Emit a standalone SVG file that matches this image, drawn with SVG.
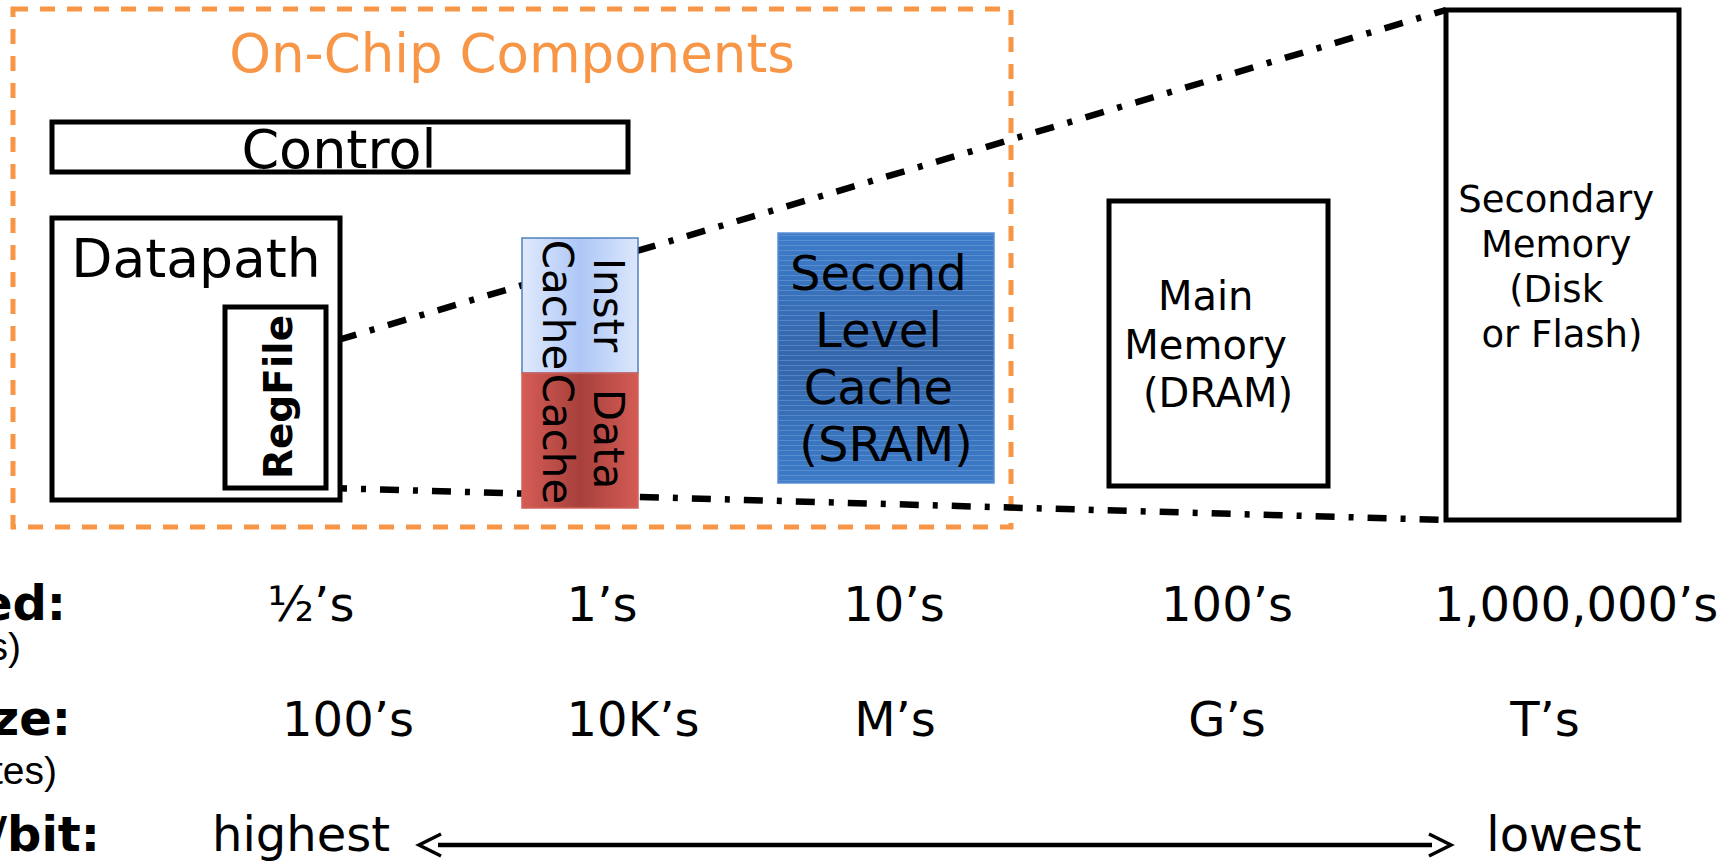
<svg xmlns="http://www.w3.org/2000/svg" width="1731" height="861" viewBox="0 0 1731 861">
<style>
  .t { font-family: "DejaVu Sans", "Liberation Sans", sans-serif; fill: #000; }
  .box { fill: #fff; stroke: #000; stroke-width: 5; }
  .dd { fill: none; stroke: #000; stroke-width: 6.5; stroke-dasharray: 19 14 5 14; }
  .b { font-weight: bold; }
  .val { font-size: 48px; text-anchor: middle; }
  .sub { font-family: "Liberation Sans", Arial, sans-serif; font-size: 39px; text-anchor: end; fill: #000; }
</style>
<defs>
  <linearGradient id="gInstr" x1="0" y1="0" x2="1" y2="0">
    <stop offset="0" stop-color="#e0eafc"/>
    <stop offset="0.5" stop-color="#aec7f7"/>
    <stop offset="1" stop-color="#dce7fb"/>
  </linearGradient>
  <linearGradient id="gData" x1="0" y1="0" x2="1" y2="0">
    <stop offset="0" stop-color="#d65c56"/>
    <stop offset="0.5" stop-color="#a7403b"/>
    <stop offset="1" stop-color="#d45b55"/>
  </linearGradient>
  <linearGradient id="gSlc" x1="0" y1="0" x2="0" y2="1">
    <stop offset="0" stop-color="#3d7cca"/>
    <stop offset="0.5" stop-color="#3466aa"/>
    <stop offset="1" stop-color="#3c7bc8"/>
  </linearGradient>
  <pattern id="pStripe" width="8" height="5" patternUnits="userSpaceOnUse">
    <rect x="0" y="0" width="8" height="1" fill="#8fb4e6" opacity="0.35"/>
  </pattern>
</defs>

<g id="onchip">
  <rect x="13" y="9" width="998" height="518" fill="none" stroke="#F79646" stroke-width="5" stroke-dasharray="15 12"/>
  <text class="t" x="512" y="72" font-size="53" text-anchor="middle" style="fill:#F79646">On-Chip Components</text>
</g>

<g id="connectors">
  <path class="dd" d="M338,340 L1446,10"/>
  <path class="dd" d="M328,488 L1446,520"/>
  <g id="cost-arrow" fill="none" stroke="#000">
    <line x1="438" y1="845" x2="1432" y2="845" stroke-width="4.5"/>
    <path d="M441,834 L419,845 L441,856" stroke-width="3.5"/>
    <path d="M1429,834 L1451,845 L1429,856" stroke-width="3.5"/>
  </g>
</g>

<g id="control">
  <rect class="box" x="52" y="122" width="576" height="50"/>
  <text class="t" x="339" y="168" font-size="54" text-anchor="middle">Control</text>
</g>

<g id="datapath">
  <rect class="box" x="52" y="218" width="288" height="282"/>
  <text class="t" x="196" y="277" font-size="53.5" text-anchor="middle">Datapath</text>
</g>

<g id="regfile">
  <rect class="box" x="225" y="307" width="101" height="181"/>
  <text class="t b" transform="translate(292,397) rotate(-90)" font-size="39" text-anchor="middle">RegFile</text>
</g>

<g id="instr-cache">
  <rect x="522" y="238" width="116" height="135" fill="url(#gInstr)" stroke="#4f81bd" stroke-width="1.5"/>
  <text class="t" transform="translate(594,305) rotate(90)" font-size="42" text-anchor="middle"><tspan x="0" y="0">Instr</tspan><tspan x="0" y="51">Cache</tspan></text>
</g>

<g id="data-cache">
  <rect x="522" y="373" width="116" height="135" fill="url(#gData)" stroke="#d0635e" stroke-width="1.5"/>
  <text class="t" transform="translate(594,439) rotate(90)" font-size="42" text-anchor="middle"><tspan x="0" y="0">Data</tspan><tspan x="0" y="51">Cache</tspan></text>
</g>

<g id="second-level-cache">
  <rect x="778" y="233" width="216" height="250" fill="url(#gSlc)" stroke="#5b8fd3" stroke-width="1.5"/>
  <rect x="779" y="234" width="214" height="248" fill="url(#pStripe)"/>
  <text class="t" font-size="48" text-anchor="middle">
    <tspan x="886" y="290">Second</tspan>
    <tspan x="886" y="347">Level</tspan>
    <tspan x="886" y="404">Cache</tspan>
    <tspan x="886" y="461">(SRAM)</tspan>
  </text>
</g>

<g id="main-memory">
  <rect class="box" x="1109" y="201" width="219" height="285"/>
  <text class="t" font-size="40" text-anchor="middle">
    <tspan x="1212" y="310">Main</tspan>
    <tspan x="1212" y="359">Memory</tspan>
    <tspan x="1218" y="407">(DRAM)</tspan>
  </text>
</g>

<g id="secondary-memory">
  <rect class="box" x="1446" y="10" width="233" height="510"/>
  <text class="t" font-size="37" text-anchor="middle">
    <tspan x="1562" y="212">Secondary</tspan>
    <tspan x="1562" y="257">Memory</tspan>
    <tspan x="1562" y="302">(Disk</tspan>
    <tspan x="1562" y="347">or Flash)</tspan>
  </text>
</g>

<g id="row-labels">
  <text class="t b" x="66" y="620" font-size="48" text-anchor="end">ed:</text>
  <text class="sub" x="21" y="660">s)</text>
  <text class="t b" x="71" y="735" font-size="48" text-anchor="end">ze:</text>
  <text class="sub" x="57" y="784">tes)</text>
  <text class="t b" x="100" y="851" font-size="48" text-anchor="end">/bit:</text>
</g>

<g id="speed-row">
  <text class="t val" x="311" y="621">½’s</text>
  <text class="t val" x="602" y="621">1’s</text>
  <text class="t val" x="894" y="621">10’s</text>
  <text class="t val" x="1227" y="621">100’s</text>
  <text class="t val" x="1576" y="621">1,000,000’s</text>
</g>

<g id="size-row">
  <text class="t val" x="348" y="736">100’s</text>
  <text class="t val" x="633" y="736">10K’s</text>
  <text class="t val" x="895" y="736">M’s</text>
  <text class="t val" x="1227" y="736">G’s</text>
  <text class="t val" x="1545" y="736">T’s</text>
</g>

<g id="cost-row">
  <text class="t val" x="301" y="851">highest</text>
  <text class="t val" x="1564" y="851">lowest</text>
</g>
</svg>
